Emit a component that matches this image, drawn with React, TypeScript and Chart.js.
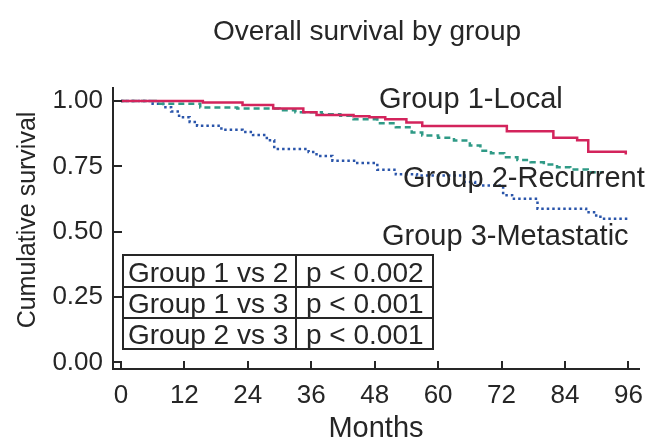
import React, { useEffect, useRef } from "react";
import { Chart, registerables } from "chart.js";

Chart.register(...registerables);

const chartTitle = "Overall survival by group";
const xAxisTitle = "Months";
const yAxisTitle = "Cumulative survival";
const xTicks = [0, 12, 24, 36, 48, 60, 72, 84, 96];
const yTicks = [0, 0.25, 0.5, 0.75, 1.0];

const groupLabels = ["Group 1-Local", "Group 2-Recurrent", "Group 3-Metastatic"];
const comparisons = ["Group 1 vs 2", "Group 1 vs 3", "Group 2 vs 3"];
const pValues = ["p < 0.002", "p < 0.001", "p < 0.001"];

// Group 1 - Local (step times in months, survival after step)
const g1Months = [0, 15.5, 23, 28.8, 34.5, 37, 44, 47, 50, 54, 57, 73, 81.8, 86.3, 88.4, 95.5];
const g1Surv = [1.0, 0.995, 0.985, 0.972, 0.957, 0.947, 0.942, 0.938, 0.93, 0.918, 0.905, 0.885, 0.86, 0.85, 0.806, 0.796];

// Group 2 - Recurrent
const g2Months = [0, 7, 15, 22, 30, 33, 38, 41.5, 44, 48.5, 52, 55, 57, 60, 63, 66, 68, 70, 72.5, 75, 77.5, 80, 82.5, 85, 88.3, 91];
const g2Surv = [1.0, 0.99, 0.975, 0.972, 0.965, 0.957, 0.95, 0.944, 0.93, 0.915, 0.9, 0.88, 0.868, 0.86, 0.849, 0.83, 0.81, 0.8, 0.785, 0.775, 0.766, 0.757, 0.747, 0.738, 0.728, 0.725];

// Group 3 - Metastatic
const g3Months = [0, 6, 8, 9.5, 11, 13, 14.4, 19, 23, 25, 27.6, 29, 35.5, 37, 40, 44.7, 48.5, 52, 56, 65, 67, 72.3, 74, 78.8, 88, 89.5, 90.7, 95.8];
const g3Surv = [1.0, 0.99, 0.976, 0.96, 0.938, 0.92, 0.906, 0.89, 0.882, 0.87, 0.85, 0.817, 0.805, 0.79, 0.772, 0.763, 0.737, 0.72, 0.715, 0.69, 0.677, 0.64, 0.626, 0.588, 0.575, 0.562, 0.55, 0.55];

const FONT = '"Liberation Sans", Arial, sans-serif';
const INK = "#262626";

const toPoints = (xs: number[], ys: number[]) => xs.map((m, i) => ({ x: m, y: ys[i] }));

const overlay = {
  id: "overlay",
  afterDraw(chart: any) {
    const { ctx, chartArea } = chart;
    const x = chart.scales.x;
    const y = chart.scales.y;
    ctx.save();
    // inward tick marks
    ctx.strokeStyle = INK;
    ctx.lineWidth = 2;
    xTicks.forEach((v) => {
      const px = Math.round(x.getPixelForValue(v));
      ctx.beginPath();
      ctx.moveTo(px, chartArea.bottom);
      ctx.lineTo(px, chartArea.bottom - 8);
      ctx.stroke();
    });
    yTicks.forEach((v) => {
      const py = Math.round(y.getPixelForValue(v));
      ctx.beginPath();
      ctx.moveTo(chartArea.left, py);
      ctx.lineTo(chartArea.left + 9, py);
      ctx.stroke();
    });

    ctx.fillStyle = INK;
    // y axis title
    ctx.save();
    ctx.translate(28, 220);
    ctx.rotate(-Math.PI / 2);
    ctx.font = `25px ${FONT}`;
    ctx.textAlign = "center";
    ctx.textBaseline = "middle";
    ctx.fillText(yAxisTitle, 0, 0);
    ctx.restore();

    ctx.textBaseline = "alphabetic";
    // title
    ctx.font = `28px ${FONT}`;
    ctx.textAlign = "center";
    ctx.fillText(chartTitle, 367, 40);

    // group labels
    ctx.textAlign = "left";
    ctx.font = `29px ${FONT}`;
    ctx.fillText(groupLabels[0], 379, 108);
    ctx.fillText(groupLabels[1], 403, 187);
    ctx.fillText(groupLabels[2], 382, 245);

    // comparison table
    const tl = 123, tr = 433, tt = 255, tb = 349, tc = 296;
    const rows = [tt, 287, 318, tb];
    ctx.strokeStyle = INK;
    ctx.lineWidth = 2;
    ctx.strokeRect(tl, tt, tr - tl, tb - tt);
    ctx.beginPath();
    ctx.moveTo(tl, rows[1]); ctx.lineTo(tr, rows[1]);
    ctx.moveTo(tl, rows[2]); ctx.lineTo(tr, rows[2]);
    ctx.moveTo(tc, tt); ctx.lineTo(tc, tb);
    ctx.stroke();
    ctx.font = `28px ${FONT}`;
    comparisons.forEach((c, i) => {
      const base = rows[i + 1] - 5;
      ctx.fillText(c, tl + 5, base);
      ctx.fillText(pValues[i], tc + 10, base);
    });
    ctx.restore();
  },
};

export default function App() {
  const ref = useRef<HTMLCanvasElement | null>(null);
  useEffect(() => {
    if (!ref.current) return;
    const chart = new Chart(ref.current, {
      type: "line",
      data: {
        datasets: [
          {
            label: groupLabels[0],
            data: toPoints(g1Months, g1Surv),
            borderColor: "#d3245c",
            borderWidth: 2.5,
            stepped: true,
            pointRadius: 0,
            fill: false,
          },
          {
            label: groupLabels[1],
            data: toPoints(g2Months, g2Surv),
            borderColor: "#2f9a86",
            borderWidth: 2.5,
            borderDash: [6, 4],
            stepped: true,
            pointRadius: 0,
            fill: false,
          },
          {
            label: groupLabels[2],
            data: toPoints(g3Months, g3Surv),
            borderColor: "#2a55aa",
            borderWidth: 2.5,
            borderDash: [2.5, 3],
            stepped: true,
            pointRadius: 0,
            fill: false,
          },
        ],
      },
      options: {
        animation: false,
        responsive: false,
        maintainAspectRatio: false,
        layout: { padding: { top: 88, right: 9, left: 0, bottom: 0 } },
        plugins: { legend: { display: false }, tooltip: { enabled: false }, title: { display: false } },
        scales: {
          x: {
            type: "linear",
            min: -1.5,
            max: 98,
            afterBuildTicks: (s: any) => { s.ticks = xTicks.map((v) => ({ value: v })); },
            afterFit: (s: any) => { s.height = 74; s.paddingLeft = 0; s.paddingRight = 0; },
            grid: { display: false, drawTicks: false },
            border: { display: true, color: INK, width: 2 },
            ticks: { color: INK, font: { size: 26, family: FONT, lineHeight: 1.2 }, padding: 11, maxRotation: 0, autoSkip: false },
            title: { display: true, text: xAxisTitle, color: INK, font: { size: 29, family: FONT, lineHeight: 1 }, padding: 0 },
          },
          y: {
            type: "linear",
            min: -0.025,
            max: 1.05,
            afterBuildTicks: (s: any) => { s.ticks = yTicks.map((v) => ({ value: v })); },
            afterFit: (s: any) => { s.width = 113; s.paddingTop = 0; s.paddingBottom = 0; },
            grid: { display: false, drawTicks: false },
            border: { display: true, color: INK, width: 2 },
            ticks: { color: INK, font: { size: 26, family: FONT }, padding: 10, autoSkip: false, callback: (v: any) => Number(v).toFixed(2) },
            title: { display: false },
          },
        },
      },
      plugins: [overlay],
    });
    return () => chart.destroy();
  }, []);
  return (
    <div style={{ position: "absolute", left: 0, top: 0, width: 648, height: 443, background: "#fff" }}>
      <canvas ref={ref} width={648} height={443} style={{ display: "block", width: 648, height: 443 }} />
    </div>
  );
}
